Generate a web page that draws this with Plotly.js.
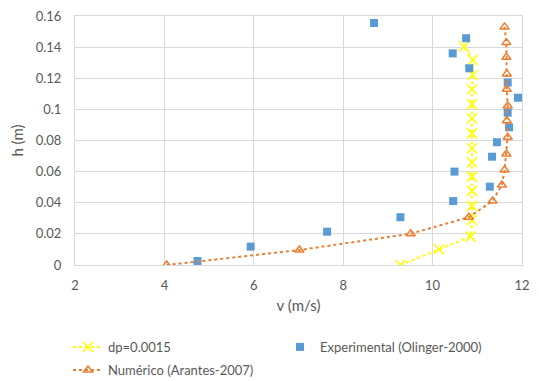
<!DOCTYPE html>
<html>
<head>
<meta charset="utf-8">
<script src="https://cdn.plot.ly/plotly-3.0.1.min.js"></script>
<style>html,body{margin:0;padding:0;background:#fff;}#chart{width:539px;height:381px;}</style>
</head>
<body>
<div id="chart"></div>
<script>
// dp=0.0015 series
const dpV = [9.28, 10.14, 10.85, 10.88, 10.88, 10.88, 10.88, 10.88, 10.88, 10.88, 10.88, 10.88, 10.88, 10.9, 10.9, 10.7];
const dpH = [0, 0.0101, 0.0182, 0.0289, 0.0379, 0.0476, 0.0568, 0.066, 0.075, 0.0846, 0.0943, 0.1033, 0.1129, 0.1221, 0.1317, 0.1403];
// Experimental (Olinger-2000)
const expV = [4.74, 5.93, 7.64, 9.28, 10.46, 11.28, 10.49, 11.33, 11.44, 11.71, 11.68, 11.91, 11.68, 10.82, 10.45, 10.75, 8.69];
const expH = [0.0026, 0.0118, 0.0214, 0.0307, 0.0411, 0.0503, 0.06, 0.0696, 0.0789, 0.0885, 0.0979, 0.1075, 0.1172, 0.1264, 0.136, 0.1457, 0.1555];
// Numérico (Arantes-2007)
const numV = [4.05, 7.02, 9.51, 10.81, 11.34, 11.55, 11.61, 11.65, 11.68, 11.66, 11.68, 11.66, 11.66, 11.65, 11.65, 11.61];
const numH = [0, 0.0096, 0.0201, 0.0307, 0.0411, 0.0514, 0.061, 0.0713, 0.0821, 0.0927, 0.1022, 0.1129, 0.1228, 0.1335, 0.1429, 0.153];
const names = ['dp=0.0015', 'Experimental (Olinger-2000)', 'Numérico (Arantes-2007)'];
const xTicks = [2, 4, 6, 8, 10, 12];
const yTicks = [0, 0.02, 0.04, 0.06, 0.08, 0.1, 0.12, 0.14, 0.16];

const FONT = 'Lato, "Liberation Sans", sans-serif';
const GREY = '#595959';
const GRID = '#d9d9d9';

const traces = [
  {x: dpV, y: dpH, name: names[0], type: 'scatter', mode: 'lines+markers', legend: 'legend',
   line: {color: '#ffff00', width: 2, dash: 'dot'},
   marker: {symbol: 'x-thin-open', size: 10, color: '#ffff00', line: {color: '#ffff00', width: 1.6}}},
  {x: expV, y: expH, name: names[1], type: 'scatter', mode: 'markers', legend: 'legend',
   marker: {symbol: 'square', size: 8, color: '#5b9bd5'}},
  {x: numV, y: numH, name: names[2], type: 'scatter', mode: 'lines+markers', legend: 'legend2',
   line: {color: '#ed7d31', width: 2, dash: 'dot'},
   marker: {symbol: 'triangle-up-open', size: 8, color: '#ed7d31', line: {color: '#ed7d31', width: 1.5}}}
];

const legFont = {family: FONT, size: 13, color: GREY};
const layout = {
  width: 539, height: 381,
  margin: {l: 75, r: 17, t: 16, b: 116},
  paper_bgcolor: '#fff', plot_bgcolor: '#fff',
  font: {family: FONT, size: 13, color: GREY},
  showlegend: true,
  legend: {orientation: 'h', xref: 'container', yref: 'container', x: 68 / 539, xanchor: 'left',
           y: 34 / 381, yanchor: 'middle', entrywidth: 167, font: legFont},
  legend2: {orientation: 'h', xref: 'container', yref: 'container', x: 68 / 539, xanchor: 'left',
            y: 11 / 381, yanchor: 'middle', font: legFont},
  xaxis: {range: [2, 12], tickvals: xTicks, showgrid: true, gridcolor: GRID, zeroline: false,
          showline: true, mirror: true, linecolor: GRID, linewidth: 1, ticks: '',
          ticklabelstandoff: 8,
          tickfont: {family: FONT, size: 13, color: GREY},
          title: {text: 'v (m/s)', font: {family: FONT, size: 15, color: GREY}, standoff: 8}},
  yaxis: {range: [0, 0.16], tickvals: yTicks, showgrid: true, gridcolor: GRID, zeroline: false,
          showline: true, mirror: true, linecolor: GRID, linewidth: 1, ticks: '',
          ticklabelstandoff: 10,
          tickfont: {family: FONT, size: 13, color: GREY},
          title: {text: 'h (m)', font: {family: FONT, size: 15, color: GREY}, standoff: 8}}
};

Plotly.newPlot('chart', traces, layout, {displayModeBar: false, staticPlot: true});
</script>
</body>
</html>
